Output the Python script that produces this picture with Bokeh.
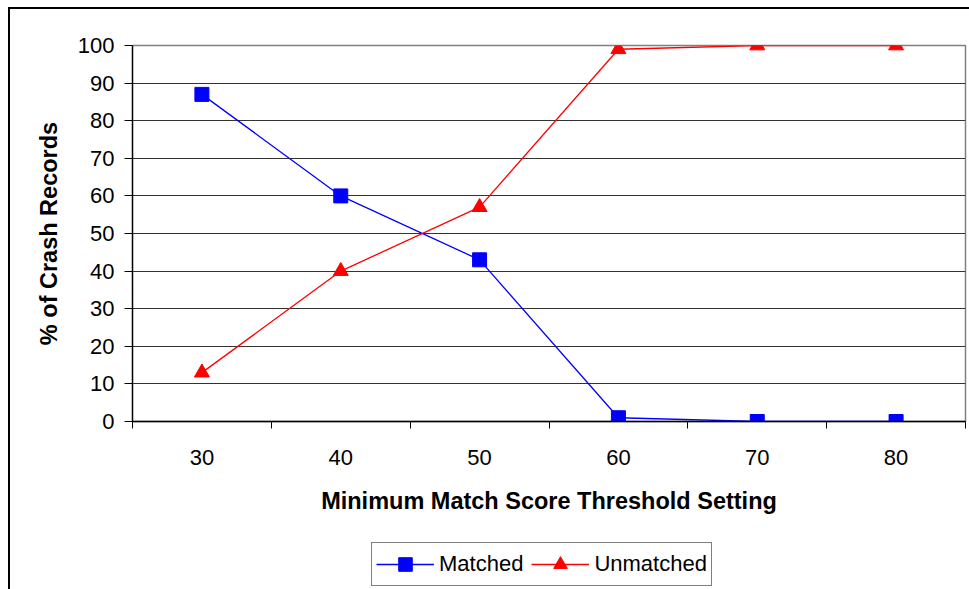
from bokeh.plotting import figure
from bokeh.layouts import column
from bokeh.models import FixedTicker, Legend, LegendItem, Range1d
from bokeh.embed import file_html
from bokeh.resources import INLINE

thresholds = [30, 40, 50, 60, 70, 80]
matched = [87, 60, 43, 1, 0, 0]
unmatched = [13, 40, 57, 99, 100, 100]
y_ticks = [0, 10, 20, 30, 40, 50, 60, 70, 80, 90, 100]
x_bounds = [25, 35, 45, 55, 65, 75, 85]
series_labels = ["Matched", "Unmatched"]

FONT = "Liberation Sans"
BLUE = "#0000FF"
RED = "#FF0000"

p = figure(width=960, height=530, output_backend="svg", toolbar_location=None,
           x_range=Range1d(25, 85), y_range=Range1d(0, 100),
           min_border_left=122, min_border_right=5, min_border_top=36, min_border_bottom=118)
p.background_fill_color = "white"
p.border_fill_color = "white"
p.outline_line_color = "#808080"
p.outline_line_width = 1.5

p.xaxis.ticker = FixedTicker(ticks=thresholds, minor_ticks=x_bounds)
p.xaxis.major_tick_out = 0
p.xaxis.major_tick_in = 0
p.xaxis.minor_tick_out = 7
p.xaxis.minor_tick_in = 0
p.xaxis.minor_tick_line_color = "black"
p.xaxis.major_label_standoff = 21
p.xaxis.axis_label = "Minimum Match Score Threshold Setting"
p.xaxis.axis_label_standoff = 20

p.yaxis.ticker = FixedTicker(ticks=y_ticks)
p.yaxis.major_tick_out = 8
p.yaxis.major_tick_in = 0
p.yaxis.minor_tick_out = 0
p.yaxis.minor_tick_in = 0
p.yaxis.major_label_standoff = 10
p.yaxis.axis_label = "% of Crash Records"
p.yaxis.axis_label_standoff = 13

for ax in (p.xaxis, p.yaxis):
    ax.axis_line_color = "black"
    ax.axis_line_width = 1.3
    ax.major_tick_line_color = "black"
    ax.major_label_text_font = FONT
    ax.major_label_text_font_size = "22px"
    ax.major_label_text_color = "black"
    ax.axis_label_text_font = FONT
    ax.axis_label_text_font_size = "23.5px"
    ax.axis_label_text_font_style = "bold"
    ax.axis_label_text_color = "black"

p.xgrid.grid_line_color = None
p.ygrid.ticker = FixedTicker(ticks=y_ticks)
p.ygrid.grid_line_color = "#333333"
p.ygrid.grid_line_width = 1.2

p.line(thresholds, matched, line_color=BLUE, line_width=1.3)
p.scatter(thresholds, matched, marker="square", size=14, fill_color=BLUE, line_color=BLUE)
p.line(thresholds, unmatched, line_color=RED, line_width=1.3)
p.scatter(thresholds, unmatched, marker="triangle", size=15, fill_color=RED, line_color=RED)

# legend strip below the chart (its glyphs use the same series, outside its visible range)
lf = figure(width=960, height=50, output_backend="svg", toolbar_location=None,
            x_range=Range1d(-2, -1), y_range=Range1d(-2, -1),
            x_axis_type=None, y_axis_type=None,
            min_border_left=0, min_border_right=0, min_border_top=0, min_border_bottom=0)
lf.outline_line_color = None
lf.grid.grid_line_color = None
lf.background_fill_color = "white"
lf.border_fill_color = "white"
ll1 = lf.line(thresholds, matched, line_color=BLUE, line_width=1.3)
lm1 = lf.scatter(thresholds, matched, marker="square", size=14, fill_color=BLUE, line_color=BLUE)
ll2 = lf.line(thresholds, unmatched, line_color=RED, line_width=1.3)
lm2 = lf.scatter(thresholds, unmatched, marker="triangle", size=15, fill_color=RED, line_color=RED)

legend = Legend(items=[LegendItem(label=series_labels[0], renderers=[ll1, lm1]),
                       LegendItem(label=series_labels[1], renderers=[ll2, lm2])],
                orientation="horizontal", location=(239, 3))
legend.label_text_font = FONT
legend.label_text_font_size = "22px"
legend.label_text_color = "black"
legend.glyph_width = 58
legend.glyph_height = 34
legend.label_height = 34
legend.label_standoff = 5
legend.spacing = 8
legend.padding = 4
legend.margin = 0
legend.border_line_color = "black"
legend.border_line_width = 1.5
legend.background_fill_color = "white"
legend.background_fill_alpha = 1
lf.add_layout(legend, "center")

layout = column(p, lf, spacing=0)
layout.margin = (7, 0, 0, 8)
layout.styles = {"border-left": "2px solid #000", "border-top": "2px solid #000"}

open("out.html", "w").write(file_html(layout, INLINE))
